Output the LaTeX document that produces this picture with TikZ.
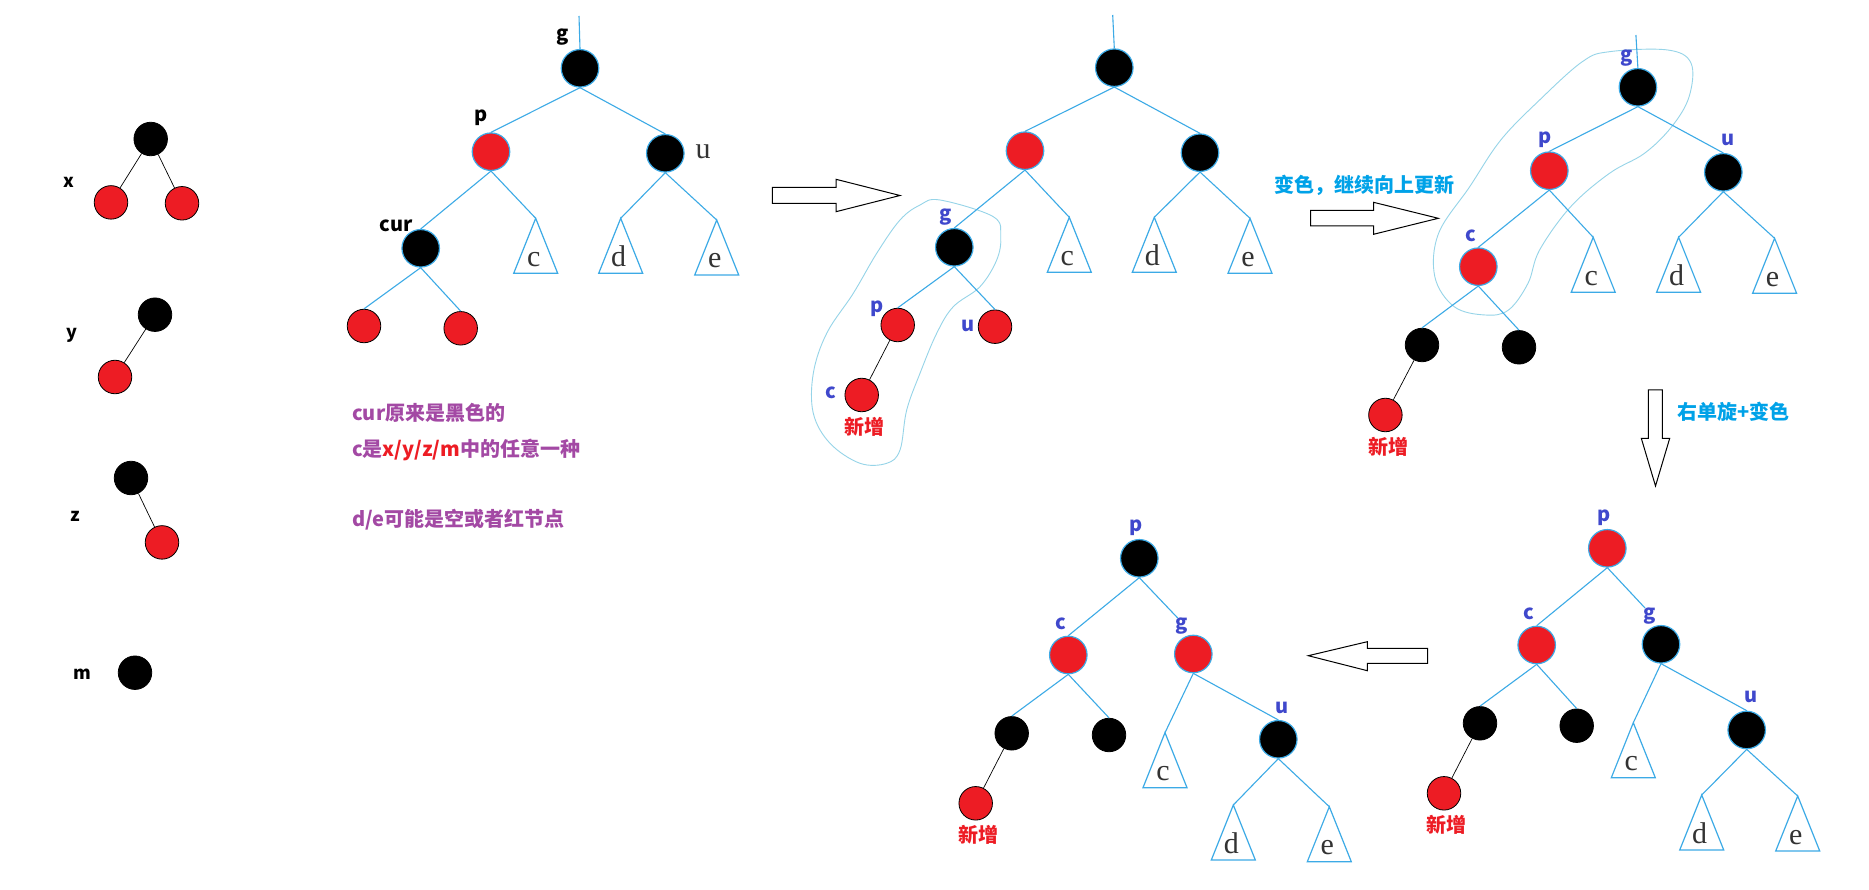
\documentclass[tikz,border=0pt]{standalone}
\usepackage{fontspec}
\newfontfamily\cjk{Noto Sans CJK SC}
\newfontfamily\seriff{Liberation Serif}
\usetikzlibrary{calc}
\definecolor{pred}{RGB}{237,28,36}
\definecolor{eblue}{RGB}{60,170,230}
\definecolor{lassoc}{RGB}{150,212,232}
\definecolor{indig}{RGB}{63,72,204}
\definecolor{turq}{RGB}{0,162,232}
\definecolor{purp}{RGB}{163,73,164}
\tikzset{
  bignode/.style={circle, minimum size=37.5pt, inner sep=0pt, draw=eblue, line width=1.2pt},
  smallnode/.style={circle, minimum size=33.5pt, inner sep=0pt, draw=black, line width=0.8pt},
  rf/.style={fill=pred},
  kf/.style={fill=black},
  bline/.style={draw=eblue, line width=1.1pt},
  kline/.style={draw=black, line width=0.7pt},
  trishape/.style={draw=eblue, line width=1.2pt, line join=miter},
  lbl/.style={inner sep=0pt, text=indig, font={\cjk\bfseries\fontsize{20}{24}\selectfont}},
  klbl/.style={inner sep=0pt, text=black, font={\cjk\bfseries\fontsize{20}{24}\selectfont}},
  klbls/.style={inner sep=0pt, text=black, font={\cjk\bfseries\fontsize{18}{22}\selectfont}},
  slbl/.style={inner sep=0pt, text=black!80, font={\seriff\fontsize{30}{34}\selectfont}},
  newl/.style={inner sep=0pt, text=pred, font={\cjk\bfseries\fontsize{20}{24}\selectfont}},
  tq/.style={inner sep=0pt, text=turq, font={\cjk\bfseries\fontsize{20}{24}\selectfont}},
  note/.style={inner sep=0pt, anchor=west, text=purp, font={\cjk\bfseries\fontsize{20}{24}\selectfont}},
  harrow/.style={draw=black, line width=1pt, fill=white, line join=miter},
  lasso/.style={draw=lassoc, line width=0.9pt}
}
\newcommand\mytri[3]{%
  \coordinate (#1) at (#2);
  \draw[trishape] (#1) -- ++(-22,55) -- ++(44,0) -- cycle;
  \node[slbl, anchor=base] (#1l) at ([shift={(-2,48)}]#1) {#3};
}
\begin{document}
\begin{tikzpicture}[x=1pt,y=-1pt]
\useasboundingbox (0,0) rectangle (1869,890);
\fill[white] (0,0) rectangle (1869,890);

% ---------- lassos ----------
\draw[lasso] plot[smooth cycle, tension=0.6] coordinates {
 (940,200) (993.3,216.7) (1000.7,236.7) (996.7,260) (980,286.7) (953.3,306.7)
 (936.7,333.3) (920,373.3) (906.7,410) (900,450) (886.7,463.3) (860,463.3)
 (830,443.3) (813.3,413.3) (813.3,373.3) (826.7,333.3) (853.3,293.3)
 (876.7,253.3) (900,220) (920,205)};
\draw[lasso] plot[smooth cycle, tension=0.6] coordinates {
 (1582.3,61.7) (1609.5,51.7) (1667.8,50) (1691.1,63.3) (1689.1,96.7)
 (1671.7,126.7) (1644.5,153.3) (1609.5,173.3) (1570.7,206.7) (1539.6,250)
 (1528,283.3) (1508.5,310) (1485.2,315) (1454.2,306.7) (1434.8,276.7)
 (1438.6,233.3) (1469.7,186.7) (1500.8,140) (1539.6,100)};

% ---------- left column: x y z m ----------
\node[smallnode,kf] (xr) at (150.7,139) {};
\node[smallnode,rf] (xa) at (111,202.4) {};
\node[smallnode,rf] (xb) at (182,203.3) {};
\node[klbls] (xl) at (69,182) {x};
\node[smallnode,kf] (yr) at (155,314.7) {};
\node[smallnode,rf] (ya) at (115,377) {};
\node[klbls] (yl) at (71.7,335) {y};
\node[smallnode,kf] (zr) at (131,478) {};
\node[smallnode,rf] (za) at (162,542.4) {};
\node[klbls] (zl) at (75,516.7) {z};
\node[smallnode,kf] (mr) at (135,672.7) {};
\node[klbls] (ml) at (82.3,674) {m};
\draw[kline] (xr) -- (xa);
\draw[kline] (xr) -- (xb);
\draw[kline] (yr) -- (ya);
\draw[kline] (zr) -- (za);

% ---------- tree 1 ----------
\coordinate (t1top) at (579,16);
\node[bignode,kf] (t1g) at (580,68.3) {};
\node[bignode,rf] (t1p) at (491,151.7) {};
\node[bignode,kf] (t1u) at (665.3,153.3) {};
\node[bignode,kf] (t1cur) at (420.7,248.3) {};
\node[smallnode,rf] (t1a) at (364,326) {};
\node[smallnode,rf] (t1b) at (460.7,328.3) {};
\mytri{t1c}{535.7,218.3}{c}
\mytri{t1d}{620.7,218.3}{d}
\mytri{t1e}{716.7,220}{e}
\node[klbl] (t1gl) at (563,36.7) {g};
\node[klbl] (t1pl) at (481,118) {p};
\node[slbl] (t1ul) at (703,151.7) {u};
\node[klbl] (t1curl) at (396,226) {cur};
\draw[bline] (t1top) -- (t1g.north);
\draw[bline] (t1g.south) -- (t1p.north);
\draw[bline] (t1g.south) -- (t1u.north);
\draw[bline] (t1p.south) -- (t1cur.north);
\draw[bline] (t1p.south) -- (t1c);
\draw[bline] (t1u.south) -- (t1d);
\draw[bline] (t1u.south) -- (t1e);
\draw[bline] (t1cur.south) -- (t1a.north);
\draw[bline] (t1cur.south) -- (t1b.north);

% notes
\node[note] (n1) at (352,413) {cur原来是黑色的};
\node[note] (n2) at (352,450) {c是\textcolor{pred}{x/y/z/m}中的任意一种};
\node[note] (n3) at (352,520) {d/e可能是空或者红节点};

% arrow 1
\draw[harrow] (772.3,187.3) -- (836,187.3) -- (836,179.3) -- (900,195.5)
  -- (836,211.7) -- (836,203.3) -- (772.3,203.3) -- cycle;

% ---------- tree 2 ----------
\coordinate (t2top) at (1112.7,15);
\node[bignode,kf] (t2r) at (1114.3,67.7) {};
\node[bignode,rf] (t2a) at (1025,150.7) {};
\node[bignode,kf] (t2b) at (1200,152.7) {};
\node[bignode,kf] (t2g) at (954.3,247.3) {};
\node[smallnode,rf] (t2p) at (897.7,325) {};
\node[smallnode,rf] (t2u) at (995,326.7) {};
\node[smallnode,rf] (t2c) at (861.7,395) {};
\mytri{t2tc}{1069.3,217.3}{c}
\mytri{t2td}{1154.3,217.3}{d}
\mytri{t2te}{1250,218.3}{e}
\node[lbl] (t2gl) at (945.3,216.7) {g};
\node[lbl] (t2pl) at (876.7,308.3) {p};
\node[lbl] (t2ul) at (968.3,326) {u};
\node[lbl] (t2cl) at (831,393.3) {c};
\node[newl] (t2new) at (864.3,427.3) {新增};
\draw[bline] (t2top) -- (t2r.north);
\draw[bline] (t2r.south) -- (t2a.north);
\draw[bline] (t2r.south) -- (t2b.north);
\draw[bline] (t2a.south) -- (t2g.north);
\draw[bline] (t2a.south) -- (t2tc);
\draw[bline] (t2b.south) -- (t2td);
\draw[bline] (t2b.south) -- (t2te);
\draw[bline] (t2g.south) -- (t2p.north);
\draw[bline] (t2g.south) -- (t2u.north);
\draw[kline] (t2p) -- (t2c);

% text + arrow 2
\node[tq] (tx1) at (1364,185.5) {变色，继续向上更新};
\draw[harrow] (1310.5,210.5) -- (1373.5,210.5) -- (1373.5,202.3) -- (1438.3,218.3)
  -- (1373.5,234.3) -- (1373.5,226) -- (1310.5,226) -- cycle;

% ---------- tree 3 ----------
\coordinate (t3top) at (1635.9,35);
\node[bignode,kf] (t3g) at (1637.9,87.3) {};
\node[bignode,rf] (t3p) at (1549.3,170.7) {};
\node[bignode,kf] (t3u) at (1723.3,172.3) {};
\node[bignode,rf] (t3c) at (1478.3,266.7) {};
\node[smallnode,kf] (t3a) at (1422,345) {};
\node[smallnode,kf] (t3b) at (1519,347.3) {};
\node[smallnode,rf] (t3n) at (1385.4,415) {};
\mytri{t3tc}{1593.2,237.3}{c}
\mytri{t3td}{1678.6,237.3}{d}
\mytri{t3te}{1774.6,238.3}{e}
\draw[bline] (t3top) -- (t3g.north);
\node[lbl] (t3gl) at (1626.2,58.3) {g};
\node[lbl] (t3pl) at (1545.4,140) {p};
\node[lbl] (t3ul) at (1728,140) {u};
\node[lbl] (t3cl) at (1470.9,236) {c};
\node[newl] (t3new) at (1388.2,446.7) {新增};
\draw[bline] (t3g.south) -- (t3p.north);
\draw[bline] (t3g.south) -- (t3u.north);
\draw[bline] (t3p.south) -- (t3c.north);
\draw[bline] (t3p.south) -- (t3tc);
\draw[bline] (t3u.south) -- (t3td);
\draw[bline] (t3u.south) -- (t3te);
\draw[bline] (t3c.south) -- (t3a.north);
\draw[bline] (t3c.south) -- (t3b.north);
\draw[kline] (t3a) -- (t3n);

% arrow 3 + text
\draw[harrow] (1648.3,390) -- (1662.3,390) -- (1662.3,438.3) -- (1669.7,438.3)
  -- (1655.5,486) -- (1641.3,438.3) -- (1648.3,438.3) -- cycle;
\node[tq] (tx2) at (1733.3,411.7) {右单旋+变色};

% ---------- tree 5 (bottom right) ----------
\node[bignode,rf] (t5p) at (1607.3,548.3) {};
\node[bignode,rf] (t5c) at (1536.7,645) {};
\node[bignode,kf] (t5g) at (1661,644.3) {};
\node[smallnode,kf] (t5a) at (1480,723.3) {};
\node[smallnode,kf] (t5b) at (1576.7,725.7) {};
\node[smallnode,rf] (t5n) at (1444,793.3) {};
\node[bignode,kf] (t5u) at (1746.7,730) {};
\mytri{t5tc}{1633.3,722.7}{c}
\mytri{t5td}{1701.7,795}{d}
\mytri{t5te}{1797.7,796}{e}
\coordinate (t5gend) at (1645,608);
\node[lbl] (t5pl) at (1604,517.7) {p};
\node[lbl] (t5cl) at (1529.3,614) {c};
\node[lbl] (t5gl) at (1649.3,616) {g};
\node[lbl] (t5ul) at (1750.7,697.3) {u};
\node[newl] (t5new) at (1446.7,825) {新增};
\draw[bline] (t5p.south) -- (t5c.north);
\draw[bline] (t5p.south) -- (t5gend);
\draw[bline] (t5c.south) -- (t5a.north);
\draw[bline] (t5c.south) -- (t5b.north);
\draw[bline] (t5g.south) -- (t5tc);
\draw[bline] (t5g.south) -- (t5u.north);
\draw[bline] (t5u.south) -- (t5td);
\draw[bline] (t5u.south) -- (t5te);
\draw[kline] (t5a) -- (t5n);

% arrow 4
\draw[harrow] (1427.7,648.3) -- (1367.3,648.3) -- (1367.3,641.7) -- (1308.3,655.7)
  -- (1367.3,670.7) -- (1367.3,663.3) -- (1427.7,663.3) -- cycle;

% ---------- tree 4 (bottom middle) ----------
\node[bignode,kf] (t4p) at (1139.3,558.3) {};
\node[bignode,rf] (t4c) at (1068.3,655) {};
\node[bignode,rf] (t4g) at (1193.3,654) {};
\node[smallnode,kf] (t4a) at (1011.7,733.3) {};
\node[smallnode,kf] (t4b) at (1109,735) {};
\node[smallnode,rf] (t4n) at (975.7,803.3) {};
\node[bignode,kf] (t4u) at (1278.3,739.3) {};
\mytri{t4tc}{1165,732.7}{c}
\mytri{t4td}{1233.3,805}{d}
\mytri{t4te}{1329.3,806.7}{e}
\coordinate (t4gend) at (1177.7,618);
\node[lbl] (t4pl) at (1136,527.7) {p};
\node[lbl] (t4cl) at (1061,624) {c};
\node[lbl] (t4gl) at (1181.7,625.7) {g};
\node[lbl] (t4ul) at (1282.3,707.7) {u};
\node[newl] (t4new) at (978.3,835) {新增};
\draw[bline] (t4p.south) -- (t4c.north);
\draw[bline] (t4p.south) -- (t4gend);
\draw[bline] (t4c.south) -- (t4a.north);
\draw[bline] (t4c.south) -- (t4b.north);
\draw[bline] (t4g.south) -- (t4tc);
\draw[bline] (t4g.south) -- (t4u.north);
\draw[bline] (t4u.south) -- (t4td);
\draw[bline] (t4u.south) -- (t4te);
\draw[kline] (t4a) -- (t4n);
\end{tikzpicture}
\end{document}
